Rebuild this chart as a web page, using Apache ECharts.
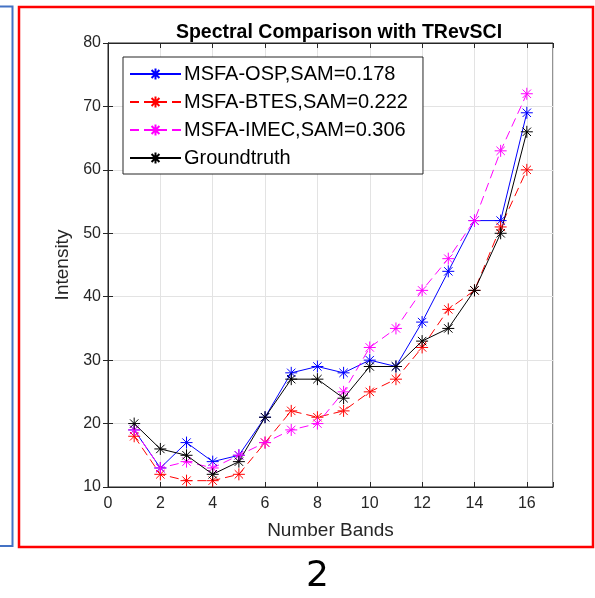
<!DOCTYPE html>
<html><head><meta charset="utf-8">
<script src="https://cdn.jsdelivr.net/npm/echarts@6/dist/echarts.min.js"></script>
<style>html,body{margin:0;padding:0;background:#fff}#c{width:595px;height:598px}</style>
</head><body><div id="c"></div>
<script>
var bands = [1,2,3,4,5,6,7,8,9,10,11,12,13,14,15,16];
var seriesNames = ['MSFA-OSP,SAM=0.178','MSFA-BTES,SAM=0.222','MSFA-IMEC,SAM=0.306','Groundtruth'];
var osp  = [19,13,17,14,15,21,28,29,28,30,29,36,44,52,52,69];
var btes = [18,12,11,11,12,17,22,21,22,25,27,32,38,41,51,60];
var imec = [19,13,14,13,15,17,19,20,25,32,35,41,46,52,63,72];
var gt   = [20,16,15,12,14,21,27,27,24,29,29,33,35,41,50,66];
var xTicks = [0,2,4,6,8,10,12,14,16];
var yTicks = [10,20,30,40,50,60,70,80];

var star = 'path://M0,-10L0,10M-10,0L10,0M-7,-7L7,7M-7,7L7,-7';
function mk(name, data, color, dashed){
  return {
    name: name, type: 'line',
    data: bands.map(function(b,i){return [b,data[i]];}),
    symbol: star, symbolSize: 12,
    lineStyle: {color: color, width: 1, type: dashed ? [9,5] : 'solid'},
    itemStyle: {color: 'rgba(0,0,0,0)', borderColor: color, borderWidth: 1},
    emphasis: {disabled: true}, animation: false
  };
}
var chart = echarts.init(document.getElementById('c'), null, {renderer:'canvas'});
var tickTxt = {color:'#262626', fontSize:16, fontFamily:'Liberation Sans, Arial'};
chart.setOption({
  animation: false,
  title: {text: 'Spectral Comparison with TRevSCI', left: 334, textAlign: 'center', top: 18,
    textStyle: {fontSize: 19.5, fontWeight: 'bold', color: '#000', fontFamily: 'Liberation Sans, Arial'}},
  grid: {left: 108, right: 42, top: 43, bottom: 111, show: true, borderColor: '#262626', borderWidth: 1},
  legend: {
    left: 123, top: 57, orient: 'vertical', itemGap: 8, itemWidth: 51, itemHeight: 14,
    padding: [7, 15, 6, 6], borderColor: '#262626', borderWidth: 1, backgroundColor: '#fff',
    textStyle: {fontSize: 20, lineHeight: 20, color: '#000', fontFamily: 'Liberation Sans, Arial', padding: [0,0,0,-2]},
    data: seriesNames
  },
  xAxis: [{
    type: 'value', min: 0, max: 17, interval: 2,
    name: 'Number Bands', nameLocation: 'middle', nameGap: 34,
    nameTextStyle: {fontSize: 19, color: '#262626', fontFamily: 'Liberation Sans, Arial'},
    axisLine: {show: true, lineStyle: {color: '#262626'}},
    axisTick: {show: true, inside: true, length: 5, lineStyle: {color: '#262626'}},
    axisLabel: Object.assign({margin: 9, formatter: function(v){return xTicks.indexOf(v)>=0 ? v : '';}}, tickTxt),
    splitLine: {show: true, lineStyle: {color: '#e3e3e3'}}
  },{
    type: 'value', min: 0, max: 17, interval: 2, position: 'top',
    axisLine: {show: true, lineStyle: {color: '#262626'}},
    axisTick: {show: true, inside: true, length: 5, lineStyle: {color: '#262626'}},
    axisLabel: {show: false}, splitLine: {show: false}
  }],
  yAxis: [{
    type: 'value', min: 10, max: 80, interval: 10,
    name: 'Intensity', nameLocation: 'middle', nameGap: 32, nameRotate: 90,
    nameTextStyle: {fontSize: 19, color: '#262626', fontFamily: 'Liberation Sans, Arial'},
    axisLine: {show: true, lineStyle: {color: '#262626'}},
    axisTick: {show: true, inside: true, length: 5, lineStyle: {color: '#262626'}},
    axisLabel: Object.assign({margin: 7, formatter: function(v){return yTicks.indexOf(v)>=0 ? v : '';}}, tickTxt),
    splitLine: {show: true, lineStyle: {color: '#e3e3e3'}}
  },{
    type: 'value', min: 10, max: 80, interval: 10, position: 'right',
    axisLine: {show: true, lineStyle: {color: '#262626'}},
    axisTick: {show: true, inside: true, length: 5, lineStyle: {color: '#262626'}},
    axisLabel: {show: false}, splitLine: {show: false}
  }],
  series: [
    mk(seriesNames[0], osp, '#0000ff', false),
    mk(seriesNames[1], btes, '#ff0000', true),
    mk(seriesNames[2], imec, '#ff00ff', true),
    mk(seriesNames[3], gt, '#000000', false)
  ],
  graphic: [
    {type:'polyline', shape:{points:[[0,6.5],[12.5,6.5],[12.5,546],[0,546]]}, style:{stroke:'#4472c4', lineWidth:2, fill:null}, silent:true},
    {type:'rect', shape:{x:19,y:7,width:574,height:540}, style:{stroke:'#ff0000', lineWidth:2.5, fill:null}, silent:true},
    {type:'text', left: 306, top: 559, style:{text:'2', fontSize: 36, fill:'#000', fontFamily:'DejaVu Sans, Arial'}, silent:true}
  ]
});
</script></body></html>
